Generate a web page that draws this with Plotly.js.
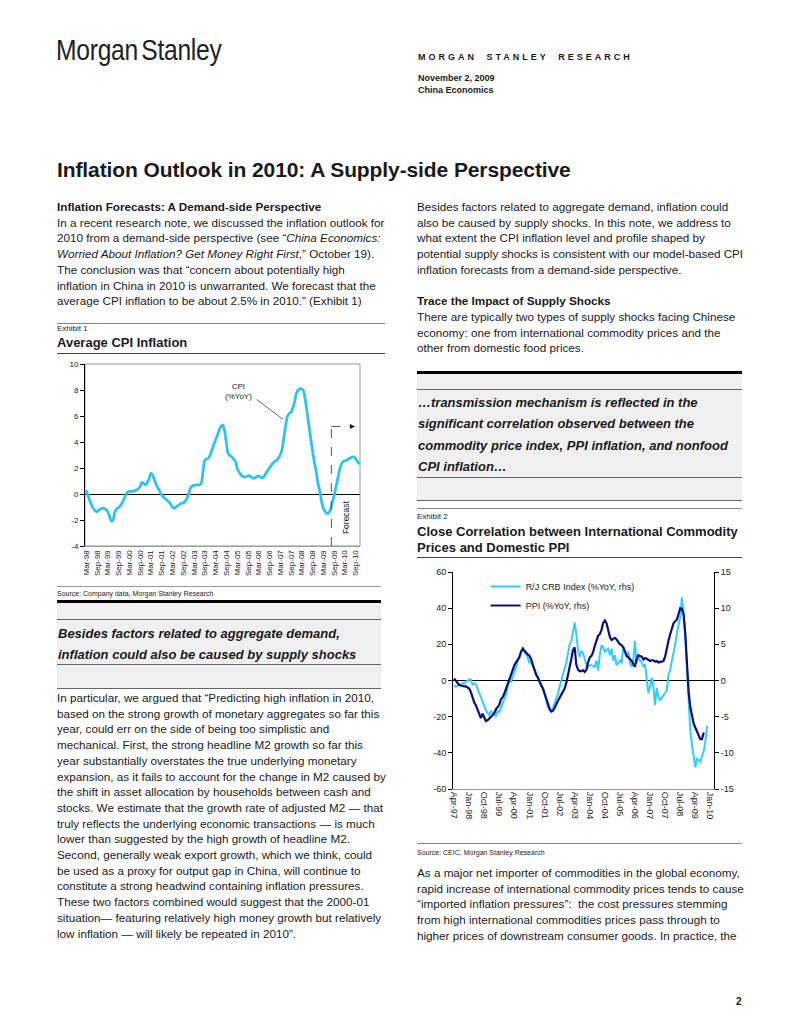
<!DOCTYPE html>
<html>
<head>
<meta charset="utf-8">
<script src="https://cdn.plot.ly/plotly-3.0.1.min.js"></script>
<style>
  html, body { margin:0; padding:0; background:#fff; }
  body { width:800px; height:1036px; position:relative; overflow:hidden;
         font-family:"Liberation Sans", Arial, Helvetica, sans-serif; color:#1a1a1a; }
  .abs { position:absolute; white-space:nowrap; }
  .body { font-size:11.7px; line-height:15.7px; }
  .rule { position:absolute; height:0; }
  .pq { font-size:13px; line-height:21.3px; font-weight:bold; font-style:italic; }
  .exh { font-size:8px; }
  .exht { font-size:13px; font-weight:bold; line-height:16px; }
  .src { font-size:7px; color:#222; }
</style>
</head>
<body>

<!-- Header -->
<div class="abs" style="left:56px; top:33px; font-size:30px; letter-spacing:-0.3px; word-spacing:-4px; transform:scaleX(0.82); transform-origin:left top; color:#222;">Morgan Stanley</div>
<div class="abs" style="left:418px; top:52px; font-size:9px; font-weight:bold; letter-spacing:3px; word-spacing:4px;">MORGAN STANLEY RESEARCH</div>
<div class="abs" style="left:418px; top:72px; font-size:9px; font-weight:bold; line-height:12px;">November 2, 2009<br>China Economics</div>

<!-- Title -->
<div class="abs" style="left:57px; top:158px; font-size:21px; font-weight:bold; letter-spacing:-0.1px;">Inflation Outlook in 2010: A Supply-side Perspective</div>

<!-- Left column top -->
<div class="abs body" style="left:57px; top:199px;"><b>Inflation Forecasts: A Demand-side Perspective</b><br>In a recent research note, we discussed the inflation outlook for<br>2010 from a demand-side perspective (see “<i>China Economics:</i><br><i>Worried About Inflation? Get Money Right First</i>,” October 19).<br>The conclusion was that “concern about potentially high<br>inflation in China in 2010 is unwarranted. We forecast that the<br>average CPI inflation to be about 2.5% in 2010.” (Exhibit 1)</div>

<!-- Exhibit 1 header -->
<div class="rule" style="left:57px; width:328px; top:323px; border-top:1px solid #888;"></div>
<div class="abs exh" style="left:57px; top:324px;">Exhibit 1</div>
<div class="abs exht" style="left:57px; top:335px;">Average CPI Inflation</div>
<div class="rule" style="left:57px; width:328px; top:353px; border-top:1px solid #444;"></div>

<div id="chart1" class="abs" style="left:50px; top:355px; width:320px; height:240px;"></div>

<div class="rule" style="left:57px; width:324px; top:586px; border-top:1px solid #999;"></div>
<div class="abs src" style="left:57px; top:590px;">Source: Company data, Morgan Stanley Research</div>

<!-- Left pull quote -->
<div class="abs" style="left:57px; top:601px; width:324px; height:87px; background:#f0f0f0;"></div>
<div class="rule" style="left:57px; width:324px; top:600px; border-top:3px solid #000;"></div>
<div class="rule" style="left:57px; width:324px; top:619px; border-top:1px solid #666;"></div>
<div class="abs pq" style="left:58px; top:623px;">Besides factors related to aggregate demand,<br>inflation could also be caused by supply shocks</div>
<div class="rule" style="left:57px; width:324px; top:664px; border-top:1px solid #666;"></div>
<div class="rule" style="left:57px; width:324px; top:688px; border-top:1px solid #666;"></div>

<!-- Left column bottom -->
<div class="abs body" style="left:57px; top:690px;">In particular, we argued that “Predicting high inflation in 2010,<br>based on the strong growth of monetary aggregates so far this<br>year, could err on the side of being too simplistic and<br>mechanical. First, the strong headline M2 growth so far this<br>year substantially overstates the true underlying monetary<br>expansion, as it fails to account for the change in M2 caused by<br>the shift in asset allocation by households between cash and<br>stocks. We estimate that the growth rate of adjusted M2 — that<br>truly reflects the underlying economic transactions — is much<br>lower than suggested by the high growth of headline M2.<br>Second, generally weak export growth, which we think, could<br>be used as a proxy for output gap in China, will continue to<br>constitute a strong headwind containing inflation pressures.<br>These two factors combined would suggest that the 2000-01<br>situation— featuring relatively high money growth but relatively<br>low inflation — will likely be repeated in 2010”.</div>

<!-- Right column top -->
<div class="abs body" style="left:417px; top:199px;">Besides factors related to aggregate demand, inflation could<br>also be caused by supply shocks. In this note, we address to<br>what extent the CPI inflation level and profile shaped by<br>potential supply shocks is consistent with our model-based CPI<br>inflation forecasts from a demand-side perspective.<br>&nbsp;<br><b>Trace the Impact of Supply Shocks</b><br>There are typically two types of supply shocks facing Chinese<br>economy: one from international commodity prices and the<br>other from domestic food prices.</div>

<!-- Right pull quote -->
<div class="abs" style="left:417px; top:372px; width:325px; height:128px; background:#f0f0f0;"></div>
<div class="rule" style="left:417px; width:325px; top:371px; border-top:3px solid #000;"></div>
<div class="rule" style="left:417px; width:325px; top:389px; border-top:1px solid #666;"></div>
<div class="abs pq" style="left:418px; top:392px;">…transmission mechanism is reflected in the<br>significant correlation observed between the<br>commodity price index, PPI inflation, and nonfood<br>CPI inflation…</div>
<div class="rule" style="left:417px; width:325px; top:477px; border-top:1px solid #666;"></div>
<div class="rule" style="left:417px; width:325px; top:500px; border-top:1px solid #666;"></div>

<!-- Exhibit 2 header -->
<div class="rule" style="left:417px; width:325px; top:508px; border-top:1px solid #888;"></div>
<div class="abs exh" style="left:417px; top:512px;">Exhibit 2</div>
<div class="abs exht" style="left:417px; top:524px;">Close Correlation between International Commodity<br>Prices and Domestic PPI</div>
<div class="rule" style="left:417px; width:325px; top:557px; border-top:1px solid #444;"></div>

<div id="chart2" class="abs" style="left:405px; top:560px; width:340px; height:290px;"></div>

<div class="rule" style="left:417px; width:325px; top:843px; border-top:1px solid #888;"></div>
<div class="abs src" style="left:417px; top:849px;">Source: CEIC, Morgan Stanley Research</div>

<!-- Right column bottom -->
<div class="abs body" style="left:417px; top:865px;">As a major net importer of commodities in the global economy,<br>rapid increase of international commodity prices tends to cause<br>“imported inflation pressures”:&nbsp; the cost pressures stemming<br>from high international commodities prices pass through to<br>higher prices of downstream consumer goods. In practice, the</div>

<div class="abs" style="left:736px; top:996px; font-size:10px; font-weight:bold;">2</div>

<script>
// ---------------- Exhibit 1 data: Average CPI inflation (%YoY), monthly from Mar-98 ----------------
const cpiStart = '1998-03';
const cpiValues = [
  0.3, -0.1, -0.5, -0.85, -1.1, -1.3, -1.35, -1.25, -1.15, -1.1,          // Mar-98..Dec-98
  -1.1, -1.2, -1.35, -1.7, -2.1, -2.0, -1.35, -1.15, -1.05, -0.9, -0.7, -0.4, // 1999
  -0.1, 0.15, 0.2, 0.2, 0.2, 0.25, 0.3, 0.4, 0.55, 0.9, 0.8, 0.7,         // 2000
  0.9, 1.2, 1.6, 1.45, 1.1, 0.7, 0.45, 0.2, -0.1, -0.25, -0.35, -0.5,     // 2001
  -0.6, -0.8, -1.0, -1.1, -1.0, -0.9, -0.8, -0.7, -0.7, -0.55, -0.35, 0.0, // 2002
  0.45, 0.6, 0.65, 0.7, 0.7, 0.7, 0.8, 1.7, 2.6, 2.7, 2.75, 3.0,          // 2003
  3.4, 3.8, 4.15, 4.5, 4.9, 5.2, 5.3, 4.9, 3.9, 3.1, 2.95, 2.85,          // 2004
  2.7, 2.5, 2.0, 1.7, 1.5, 1.35, 1.3, 1.35, 1.4, 1.4, 1.3, 1.2,           // 2005
  1.25, 1.35, 1.4, 1.3, 1.25, 1.35, 1.6, 1.8, 2.0, 2.2, 2.4, 2.5,         // 2006
  2.6, 2.8, 3.0, 3.4, 4.3, 5.2, 5.95, 6.2, 6.3, 6.6, 7.1, 7.75,           // 2007
  8.0, 8.1, 8.1, 7.9, 7.2, 6.2, 5.2, 4.2, 3.25, 2.4, 1.7, 0.8,            // 2008
  0.2, -0.6, -1.1, -1.35, -1.5, -1.45, -1.15, -0.6, -0.1, 0.55, 1.2, 1.85, // 2009
  2.3, 2.5, 2.55, 2.6, 2.7, 2.75, 2.85, 2.85, 2.7, 2.5, 2.3              // Jan-10..Nov-10
];
const cpiTickStart = '1998-03-01';
const cpiYTicks = [-4, -2, 0, 2, 4, 6, 8, 10];
const cpiYLabels = ['-4', '-2', '0', '2', '4', '6', '8', '10'];
const forecastStart = '2009-07-15';
const forecastArrowEnd = '2010-08-20';

// ---------------- Exhibit 2 data: monthly from Apr-97 ----------------
const crbStart = '1997-04';
const crbValues = [ // R/J CRB Index %YoY (left scale)
  -2.5, -3.5, -3, -2, -2.5, -1.5, -1.5, -0.5, 0, 0.5, 0.5, -2.5,
  -1.5, -2, -4.5, -7.5, -9, -11.5, -14.5, -16.5, -18, -19, -17, -18,
  -18.5, -19.5, -17, -17.5, -15, -13, -10.5, -8, -4, 1, -1, 2.5,
  4.5, 8, 11, 13.5, 16, 18.5, 15.5, 14.5, 12.5, 9.5, 11, 8,
  6, 4, 2, 0.5, -2, -4, -7.5, -11.5, -14.5, -16.5, -17, -15.5,
  -13, -9.5, -7.5, -3.5, 1, 3.5, 6.5, 10, 15, 20, 22, 26,
  32, 26, 17, 13, 16.5, 15, 11.5, 9, 7.5, 8.5, 8.5, 8,
  7.5, 11, 5.5, 14, 19.5, 18.5, 16, 17, 17.5, 14, 17.5, 11,
  14, 8.5, 9.5, 11, 9.5, 18.5, 16, 13, 16, 9.5, 7.5, 11,
  22, 9.5, 13, 11, 10, 7.5, 9, 0, -7, -3, 1.5, -3.5,
  -13.5, -4, -9, -11, -9.5, -8.5, -7, -5.5, 3.5, 5.5, 11, 15,
  20, 26, 31, 35, 46, 38, 24, 5, -14, -28, -36, -41,
  -48, -43, -44, -45, -42, -39, -34, -25
];
const ppiStart = '1997-04';
const ppiValues = [ // PPI %YoY (right scale)
  0.3, 0, -0.3, -0.6, -0.7, -0.8, -0.8, -0.8, -0.9, -1.1, -1.6, -2.4,
  -3, -3.4, -4.1, -4.6, -5.2, -4.6, -5.0, -5.6, -5.5, -5.2, -5.0, -4.8,
  -4.5, -4.0, -3.6, -3.4, -2.6, -2.3, -1.8, -1.1, -0.5, 0.1, 0.8, 1.6,
  2.1, 2.5, 2.8, 3.2, 4.0, 4.4, 4.1, 3.8, 3.6, 3.4, 2.9, 2.2,
  1.4, 0.8, 0.4, -0.2, -0.7, -1.1, -1.8, -2.7, -3.3, -3.9, -4.3, -4.2,
  -3.8, -3.2, -2.8, -2.4, -2.0, -1.5, -1.1, -0.3, 0.6, 1.9, 3.0, 4.2,
  4.6, 2.2, 1.5, 1.3, 1.3, 1.4, 1.2, 1.5, 2.5, 3.2, 3.4, 3.9,
  4.8, 5.5, 6.2, 6.4, 7.0, 8.0, 8.3, 7.9, 7.0, 6.0, 5.6, 5.7,
  5.9, 5.7, 5.4, 5.0, 4.9, 4.6, 4.0, 3.4, 3.2, 3.0, 2.7, 2.3,
  1.9, 3.0, 3.5, 3.4, 3.3, 2.9, 3.1, 3.0, 2.9, 2.7, 2.8, 2.8,
  2.6, 2.7, 2.5, 2.6, 2.6, 2.7, 3.3, 4.6, 5.5, 6.4, 7.1, 7.9,
  8.2, 8.4, 9.2, 10.0, 9.9, 9.1, 6.5, 1.8, -1.6, -3.7, -4.9, -5.9,
  -6.5, -7.0, -7.6, -8.1, -8.1, -7.2
];
const seriesNames = ['R/J CRB Index (%YoY, rhs)', 'PPI (%YoY, rhs)'];
const ex2TickStart = '1997-04-01';
const leftTicks = [-60, -40, -20, 0, 20, 40, 60];
const leftLabels = ['-60', '-40', '-20', '0', '20', '40', '60'];
const rightTicks = [-15, -10, -5, 0, 5, 10, 15];
const rightLabels = ['-15', '-10', '-5', '0', '5', '10', '15'];

// month labels for each observation (category axis of dates)
function monthDates(start, n) {
  const p = start.split('-').map(Number);
  const out = [];
  for (let i = 0; i < n; i++) {
    const t = p[1] - 1 + i;
    const yy = p[0] + Math.floor(t / 12);
    const mm = (t % 12) + 1;
    out.push(yy + '-' + String(mm).padStart(2, '0') + '-01');
  }
  return out;
}

const FONT = 'Liberation Sans, Arial, Helvetica, sans-serif';
const cfg = {staticPlot: true, displayModeBar: false};

// ---------------- Chart 1 ----------------
const cpiX = monthDates(cpiStart, cpiValues.length);
Plotly.newPlot('chart1', [{
  x: cpiX, y: cpiValues, type: 'scatter', mode: 'lines',
  line: {color: '#2EC3EE', width: 2.8, shape: 'spline', smoothing: 0.8},
  hoverinfo: 'skip'
}], {
  width: 320, height: 240,
  margin: {l: 34.5, r: 10, t: 9, b: 49},
  paper_bgcolor: 'rgba(0,0,0,0)', plot_bgcolor: '#fff',
  showlegend: false,
  font: {family: FONT, size: 8, color: '#222'},
  xaxis: {
    type: 'date', range: ['1998-02-10', '2010-11-12'],
    tick0: cpiTickStart, dtick: 'M6', tickformat: '%b-%y', tickangle: -90,
    showgrid: false, zeroline: false, showline: true, linecolor: '#999', linewidth: 1,
    ticks: '', tickfont: {size: 8, color: '#222'}
  },
  yaxis: {
    range: [-4, 10], tickmode: 'array', tickvals: cpiYTicks, ticktext: cpiYLabels,
    showgrid: false,
    zeroline: true, zerolinecolor: '#000', zerolinewidth: 1,
    showline: true, linecolor: '#000', linewidth: 1,
    ticks: 'outside', ticklen: 4, tickcolor: '#000', tickfont: {size: 8, color: '#222'}
  },
  shapes: [
    {type: 'rect', xref: 'paper', yref: 'paper', x0: 0, x1: 1, y0: 0, y1: 1,
     line: {color: '#999', width: 1}, layer: 'below'},
    {type: 'line', xref: 'x', yref: 'y', x0: forecastStart, x1: forecastStart, y0: -4, y1: 5.2,
     line: {color: '#555', width: 1, dash: 'dash'}},
    {type: 'line', xref: 'x', yref: 'y', x0: forecastStart, x1: '2010-07-01', y0: 5.2, y1: 5.2,
     line: {color: '#555', width: 1, dash: 'dash'}}
  ],
  annotations: [
    {x: forecastArrowEnd, y: 5.2, ax: '2010-06-20', ay: 5.2, axref: 'x', ayref: 'y',
     xref: 'x', yref: 'y', showarrow: true, arrowhead: 2, arrowsize: 1, arrowwidth: 1,
     arrowcolor: '#222', text: ''},
    {x: '2005-04-01', y: 7.9, xref: 'x', yref: 'y', text: 'CPI<br>(%YoY)', showarrow: false,
     font: {size: 8, color: '#222'}},
    {x: '2007-04-15', y: 5.75, ax: '2006-01-01', ay: 7.36, axref: 'x', ayref: 'y',
     xref: 'x', yref: 'y', showarrow: true, arrowhead: 0, arrowwidth: 0.8,
     arrowcolor: '#444', text: ''},
    {x: '2010-04-01', y: -1.8, xref: 'x', yref: 'y', text: 'Forecast', textangle: -90,
     showarrow: false, font: {size: 8.5, color: '#222'}}
  ]
}, cfg);

// ---------------- Chart 2 ----------------
const crbX = monthDates(crbStart, crbValues.length);
const ppiX = monthDates(ppiStart, ppiValues.length);
Plotly.newPlot('chart2', [
  {x: crbX, y: crbValues, name: seriesNames[0], type: 'scatter', mode: 'lines',
   line: {color: '#33CCFF', width: 2}, yaxis: 'y', hoverinfo: 'skip'},
  {x: ppiX, y: ppiValues, name: seriesNames[1], type: 'scatter', mode: 'lines',
   line: {color: '#0A0F7A', width: 2.2}, yaxis: 'y2', hoverinfo: 'skip'}
], {
  width: 340, height: 290,
  margin: {l: 48, r: 31, t: 12, b: 61},
  paper_bgcolor: 'rgba(0,0,0,0)', plot_bgcolor: '#fff',
  font: {family: FONT, size: 9, color: '#222'},
  showlegend: true,
  legend: {x: 0.125, y: 1.0, xanchor: 'left', yanchor: 'top', bgcolor: 'rgba(0,0,0,0)',
           font: {size: 9, color: '#222'}, tracegroupgap: 0},
  xaxis: {
    type: 'date', range: ['1997-03-13', '2010-03-07'],
    tick0: ex2TickStart, dtick: 'M9', tickformat: '%b-%y', tickangle: 90,
    showgrid: false, zeroline: false, showline: true, linecolor: '#999', linewidth: 1,
    ticks: '', tickfont: {size: 9, color: '#222'}
  },
  yaxis: {
    range: [-60, 60], tickmode: 'array', tickvals: leftTicks, ticktext: leftLabels,
    showgrid: false,
    zeroline: true, zerolinecolor: '#000', zerolinewidth: 1,
    showline: true, linecolor: '#000', linewidth: 1,
    ticks: 'outside', ticklen: 4, tickcolor: '#000', tickfont: {size: 9, color: '#222'}
  },
  yaxis2: {
    overlaying: 'y', side: 'right', range: [-15, 15],
    tickmode: 'array', tickvals: rightTicks, ticktext: rightLabels, showgrid: false,
    zeroline: false, showline: true, linecolor: '#000', linewidth: 1,
    ticks: 'outside', ticklen: 4, tickcolor: '#000', tickfont: {size: 9, color: '#222'}
  }
}, cfg);
</script>
</body>
</html>
